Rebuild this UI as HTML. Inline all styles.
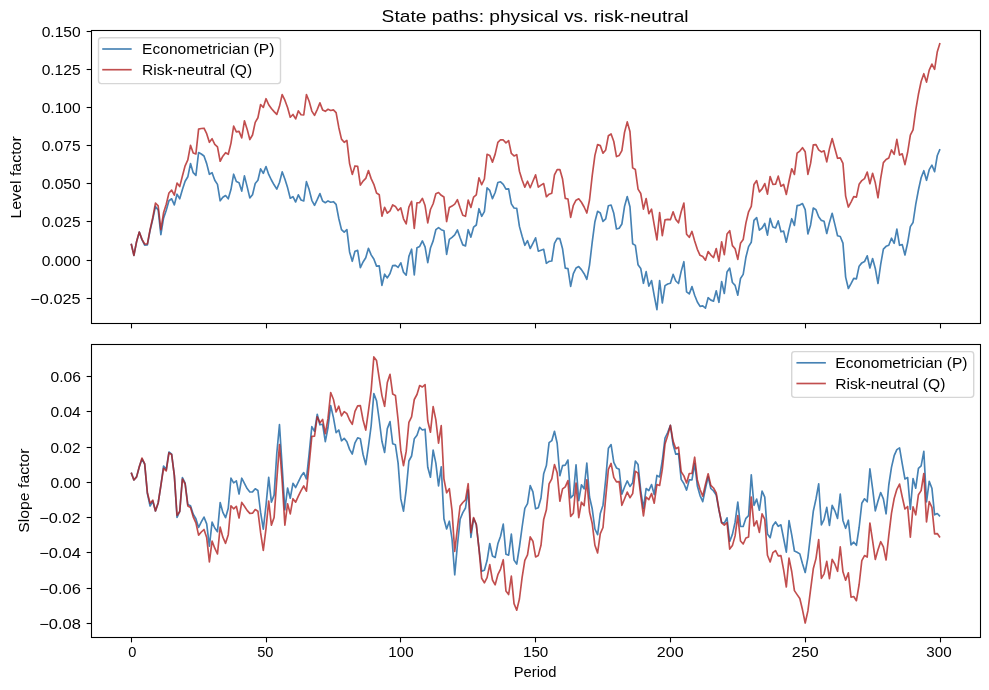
<!DOCTYPE html>
<html><head><meta charset="utf-8"><title>State paths: physical vs. risk-neutral</title>
<style>html,body{margin:0;padding:0;background:#fff;}body{width:989px;height:690px;overflow:hidden;font-family:"Liberation Sans",sans-serif;}svg{display:block;}text{font-family:"Liberation Sans",sans-serif;fill:#000;}</style>
</head><body>
<svg width="989" height="690" viewBox="0 0 989 690">
<rect x="0" y="0" width="989" height="690" fill="#ffffff"/>
<defs>
<clipPath id="c0"><rect x="91.5" y="30.5" width="889.0" height="293.0"/></clipPath>
<clipPath id="c1"><rect x="91.5" y="344.5" width="889.0" height="293.0"/></clipPath>
</defs>
<g clip-path="url(#c0)" fill="none" stroke-width="1.67" stroke-linejoin="round" stroke-linecap="butt">
<path d="M131.20,243.70 L133.90,255.40 L136.59,241.70 L139.29,232.10 L141.98,239.60 L144.68,245.10 L147.38,244.90 L150.07,230.50 L152.77,219.30 L155.46,206.40 L158.16,210.00 L160.86,234.70 L163.55,218.20 L166.25,210.20 L168.94,200.70 L171.64,198.80 L174.34,204.90 L177.03,194.20 L179.73,198.80 L182.42,189.60 L185.12,181.30 L187.82,176.80 L190.51,163.60 L193.21,172.70 L195.90,175.30 L198.60,152.50 L201.30,154.00 L203.99,156.00 L206.69,163.60 L209.38,174.30 L212.08,172.70 L214.78,180.30 L217.47,184.40 L220.17,200.80 L222.86,197.20 L225.56,195.50 L228.26,198.80 L230.95,189.60 L233.65,174.20 L236.34,181.50 L239.04,182.70 L241.74,191.10 L244.43,175.90 L247.13,186.60 L249.82,197.90 L252.52,194.70 L255.22,183.50 L257.91,180.30 L260.61,168.80 L263.30,173.40 L266.00,166.50 L268.70,174.40 L271.39,180.00 L274.09,184.80 L276.78,189.10 L279.48,182.50 L282.18,171.90 L284.87,179.00 L287.57,187.60 L290.26,198.20 L292.96,196.70 L295.66,202.00 L298.35,194.90 L301.05,200.00 L303.74,201.00 L306.44,181.70 L309.14,189.60 L311.83,200.30 L314.53,205.30 L317.22,199.70 L319.92,193.60 L322.62,201.00 L325.31,202.70 L328.01,200.90 L330.70,202.20 L333.40,201.70 L336.10,204.30 L338.79,218.50 L341.49,229.60 L344.18,232.20 L346.88,229.60 L349.58,251.90 L352.27,261.30 L354.97,251.20 L357.66,250.40 L360.36,267.60 L363.06,262.00 L365.75,257.70 L368.45,248.30 L371.14,254.90 L373.84,259.00 L376.54,266.10 L379.23,265.90 L381.93,285.30 L384.62,274.20 L387.32,277.90 L390.02,273.50 L392.71,265.60 L395.41,265.30 L398.10,267.40 L400.80,262.80 L403.50,272.20 L406.19,275.20 L408.89,256.40 L411.58,249.20 L414.28,274.80 L416.98,247.70 L419.67,246.40 L422.37,240.90 L425.06,246.90 L427.76,262.70 L430.46,248.00 L433.15,240.90 L435.85,229.70 L438.54,227.70 L441.24,229.70 L443.94,230.70 L446.63,254.40 L449.33,239.30 L452.02,237.30 L454.72,234.80 L457.42,230.00 L460.11,237.80 L462.81,244.90 L465.50,245.90 L468.20,229.70 L470.90,237.10 L473.59,227.20 L476.29,225.00 L478.98,208.70 L481.68,216.30 L484.38,211.70 L487.07,187.90 L489.77,190.40 L492.46,198.70 L495.16,192.50 L497.86,182.50 L500.55,181.80 L503.25,184.30 L505.94,189.20 L508.64,188.80 L511.34,203.90 L514.03,208.00 L516.73,208.30 L519.42,226.40 L522.12,236.30 L524.82,245.30 L527.51,240.70 L530.21,248.50 L532.90,243.30 L535.60,237.80 L538.30,251.20 L540.99,250.20 L543.69,249.30 L546.38,263.30 L549.08,261.30 L551.78,261.00 L554.47,243.30 L557.17,238.40 L559.86,238.70 L562.56,248.80 L565.26,268.10 L567.95,268.60 L570.65,286.40 L573.34,273.70 L576.04,268.10 L578.74,266.60 L581.43,269.60 L584.13,273.70 L586.82,279.30 L589.52,265.10 L592.22,242.20 L594.91,221.70 L597.61,211.30 L600.30,213.00 L603.00,221.40 L605.70,218.90 L608.39,205.70 L611.09,205.00 L613.78,213.30 L616.48,229.00 L619.18,228.30 L621.87,224.00 L624.57,206.20 L627.26,196.60 L629.96,206.70 L632.66,243.80 L635.35,245.40 L638.05,264.80 L640.74,268.50 L643.44,283.30 L646.14,271.60 L648.83,286.10 L651.53,280.50 L654.22,295.70 L656.92,309.70 L659.62,280.70 L662.31,303.00 L665.01,285.60 L667.70,284.00 L670.40,283.30 L673.10,274.40 L675.79,281.00 L678.49,283.50 L681.18,271.40 L683.88,261.70 L686.58,291.90 L689.27,293.90 L691.97,286.60 L694.66,295.20 L697.36,302.00 L700.06,306.40 L702.75,305.90 L705.45,308.10 L708.14,297.70 L710.84,300.10 L713.54,301.10 L716.23,290.80 L718.93,302.30 L721.62,281.50 L724.32,293.50 L727.02,271.90 L729.71,268.10 L732.41,282.50 L735.10,285.40 L737.80,295.20 L740.50,278.50 L743.19,274.40 L745.89,257.30 L748.58,246.60 L751.28,242.20 L753.98,220.40 L756.67,217.60 L759.37,230.10 L762.06,228.00 L764.76,223.50 L767.46,235.10 L770.15,218.40 L772.85,227.00 L775.54,228.00 L778.24,220.90 L780.94,231.80 L783.63,231.10 L786.33,242.20 L789.02,229.60 L791.72,218.70 L794.42,225.40 L797.11,205.60 L799.81,205.10 L802.50,203.60 L805.20,209.70 L807.90,234.00 L810.59,224.90 L813.29,208.00 L815.98,209.70 L818.68,216.80 L821.38,220.40 L824.07,221.20 L826.77,233.50 L829.46,222.40 L832.16,213.30 L834.86,224.40 L837.55,235.80 L840.25,236.50 L842.94,243.10 L845.64,277.10 L848.34,288.50 L851.03,283.70 L853.73,278.40 L856.42,278.80 L859.12,266.20 L861.82,262.90 L864.51,261.60 L867.21,255.80 L869.90,268.00 L872.60,258.50 L875.30,268.50 L877.99,283.50 L880.69,264.40 L883.38,249.10 L886.08,246.30 L888.78,245.20 L891.47,238.20 L894.17,243.30 L896.86,229.10 L899.56,245.30 L902.26,244.60 L904.95,255.00 L907.65,242.80 L910.34,226.60 L913.04,222.50 L915.74,204.30 L918.43,190.00 L921.13,177.80 L923.82,170.70 L926.52,180.30 L929.22,169.70 L931.91,165.10 L934.61,171.70 L937.30,155.50 L940.00,149.20" stroke="#4682b4"/>
<path d="M131.20,243.70 L133.90,255.40 L136.59,241.50 L139.29,232.00 L141.98,239.40 L144.68,244.00 L147.38,243.92 L150.07,229.58 L152.77,217.47 L155.46,203.14 L158.16,205.84 L160.86,229.73 L163.55,212.77 L166.25,204.21 L168.94,193.01 L171.64,190.16 L174.34,195.17 L177.03,183.08 L179.73,186.60 L182.42,176.05 L185.12,165.80 L187.82,159.82 L190.51,145.33 L193.21,152.92 L195.90,153.92 L198.60,129.11 L201.30,128.54 L203.99,128.21 L206.69,133.70 L209.38,142.32 L212.08,138.75 L214.78,144.37 L217.47,146.80 L220.17,161.24 L222.86,156.14 L225.56,152.69 L228.26,154.32 L230.95,143.35 L233.65,126.18 L236.34,131.93 L239.04,131.36 L241.74,137.81 L244.43,120.85 L247.13,129.15 L249.82,139.53 L252.52,135.03 L255.22,122.41 L257.91,117.75 L260.61,104.53 L263.30,107.45 L266.00,98.69 L268.70,104.78 L271.39,108.53 L274.09,111.64 L276.78,114.41 L279.48,106.32 L282.18,94.52 L284.87,100.22 L287.57,107.57 L290.26,117.24 L292.96,114.47 L295.66,118.93 L298.35,110.87 L301.05,114.76 L303.74,115.00 L306.44,94.61 L309.14,101.28 L311.83,111.08 L314.53,115.39 L317.22,109.57 L319.92,102.88 L322.62,109.89 L325.31,111.33 L328.01,109.25 L330.70,110.50 L333.40,109.88 L336.10,112.65 L338.79,127.45 L341.49,139.09 L344.18,142.31 L346.88,140.46 L349.58,163.62 L352.27,174.41 L354.97,165.95 L357.66,166.43 L360.36,185.12 L363.06,181.11 L365.75,178.47 L368.45,170.52 L371.14,178.63 L373.84,184.35 L376.54,193.04 L379.23,194.69 L381.93,216.21 L384.62,207.28 L387.32,213.14 L390.02,210.82 L392.71,204.86 L395.41,206.40 L398.10,210.52 L400.80,207.94 L403.50,218.81 L406.19,223.98 L408.89,207.09 L411.58,201.31 L414.28,228.41 L416.98,202.71 L419.67,202.57 L422.37,198.33 L425.06,205.54 L427.76,222.86 L430.46,209.50 L433.15,203.74 L435.85,193.66 L438.54,192.48 L441.24,195.32 L443.94,197.07 L446.63,221.54 L449.33,207.53 L452.02,206.06 L454.72,204.10 L457.42,199.67 L460.11,207.74 L462.81,215.24 L465.50,216.28 L468.20,200.12 L470.90,207.46 L473.59,197.15 L476.29,194.83 L478.98,177.75 L481.68,184.74 L484.38,179.00 L487.07,154.34 L489.77,155.44 L492.46,162.14 L495.16,154.13 L497.86,142.38 L500.55,139.72 L503.25,139.94 L505.94,142.91 L508.64,140.57 L511.34,153.48 L514.03,155.96 L516.73,154.63 L519.42,171.16 L522.12,180.01 L524.82,187.12 L527.51,181.24 L530.21,187.74 L532.90,181.23 L535.60,174.87 L538.30,187.11 L540.99,185.12 L543.69,183.58 L546.38,196.77 L549.08,194.21 L551.78,193.24 L554.47,174.83 L557.17,169.67 L559.86,169.47 L562.56,179.02 L565.26,198.35 L567.95,198.95 L570.65,217.39 L573.34,205.28 L576.04,200.20 L578.74,198.80 L581.43,202.24 L584.13,206.99 L586.82,213.03 L589.52,200.02 L592.22,175.65 L594.91,155.42 L597.61,144.48 L600.30,145.61 L603.00,153.24 L605.70,149.92 L608.39,135.72 L611.09,133.93 L613.78,141.50 L616.48,156.60 L619.18,155.46 L621.87,150.54 L624.57,132.17 L627.26,121.90 L629.96,131.54 L632.66,167.91 L635.35,169.58 L638.05,189.17 L640.74,193.49 L643.44,209.17 L646.14,198.49 L648.83,213.72 L651.53,209.13 L654.22,224.77 L656.92,239.87 L659.62,212.52 L662.31,235.71 L665.01,219.85 L667.70,219.38 L670.40,219.67 L673.10,211.81 L675.79,219.39 L678.49,222.78 L681.18,211.74 L683.88,203.12 L686.58,234.19 L689.27,237.28 L691.97,231.39 L694.66,241.01 L697.36,249.29 L700.06,255.33 L702.75,256.50 L705.45,260.23 L708.14,251.49 L710.84,255.08 L713.54,257.52 L716.23,248.51 L718.93,261.23 L721.62,241.79 L724.32,254.60 L727.02,233.99 L729.71,230.75 L732.41,245.60 L735.10,248.83 L737.80,259.33 L740.50,243.28 L743.19,239.54 L745.89,223.07 L748.58,211.81 L751.28,206.44 L753.98,184.45 L756.67,180.60 L759.37,191.83 L762.06,188.90 L764.76,183.56 L767.46,194.11 L770.15,176.49 L772.85,184.30 L775.54,184.23 L778.24,176.14 L780.94,186.18 L783.63,184.45 L786.33,194.42 L789.02,180.98 L791.72,168.73 L794.42,174.42 L797.11,153.11 L799.81,151.08 L802.50,147.70 L805.20,151.83 L807.90,174.42 L810.59,163.42 L813.29,144.94 L815.98,144.61 L818.68,149.87 L821.38,151.91 L824.07,150.75 L826.77,161.90 L829.46,148.61 L832.16,138.48 L834.86,148.49 L837.55,158.30 L840.25,157.83 L842.94,163.30 L845.64,196.08 L848.34,207.05 L851.03,202.02 L853.73,196.68 L856.42,197.09 L859.12,184.36 L861.82,180.59 L864.51,178.64 L867.21,172.03 L869.90,183.70 L872.60,173.24 L875.30,182.85 L877.99,197.76 L880.69,178.44 L883.38,162.59 L886.08,159.51 L888.78,157.97 L891.47,149.97 L894.17,154.30 L896.86,139.31 L899.56,155.04 L902.26,153.86 L904.95,164.65 L907.65,152.26 L910.34,135.10 L913.04,129.94 L915.74,110.11 L918.43,94.27 L921.13,81.50 L923.82,73.67 L926.52,82.08 L929.22,70.15 L931.91,64.11 L934.61,69.30 L937.30,51.70 L940.00,43.10" stroke="#b22222" stroke-opacity="0.8"/>
</g>
<g clip-path="url(#c1)" fill="none" stroke-width="1.67" stroke-linejoin="round" stroke-linecap="butt">
<path d="M131.20,472.60 L133.90,480.00 L136.59,476.90 L139.29,466.80 L141.98,459.00 L144.68,464.00 L147.38,493.50 L150.07,506.00 L152.77,501.00 L155.46,511.00 L158.16,503.00 L160.86,485.60 L163.55,466.00 L166.25,469.50 L168.94,452.00 L171.64,454.10 L174.34,475.40 L177.03,517.50 L179.73,511.50 L182.42,477.50 L185.12,483.00 L187.82,504.60 L190.51,505.70 L193.21,514.30 L195.90,518.80 L198.60,527.50 L201.30,521.90 L203.99,517.10 L206.69,523.90 L209.38,546.20 L212.08,522.20 L214.78,528.00 L217.47,531.70 L220.17,502.50 L222.86,512.40 L225.56,517.70 L228.26,508.30 L230.95,478.20 L233.65,482.80 L236.34,480.80 L239.04,494.00 L241.74,478.20 L244.43,483.30 L247.13,488.60 L249.82,492.00 L252.52,491.90 L255.22,488.80 L257.91,490.50 L260.61,512.40 L263.30,529.10 L266.00,505.30 L268.70,477.40 L271.39,502.20 L274.09,495.10 L276.78,453.50 L279.48,424.70 L282.18,467.00 L284.87,509.80 L287.57,488.00 L290.26,498.20 L292.96,483.30 L295.66,487.50 L298.35,481.90 L301.05,476.30 L303.74,472.60 L306.44,478.80 L309.14,453.50 L311.83,426.60 L314.53,431.30 L317.22,414.30 L319.92,424.80 L322.62,424.30 L325.31,441.70 L328.01,427.50 L330.70,405.70 L333.40,417.40 L336.10,432.60 L338.79,430.00 L341.49,440.80 L344.18,438.30 L346.88,441.80 L349.58,449.40 L352.27,454.00 L354.97,442.80 L357.66,437.80 L360.36,438.80 L363.06,454.50 L365.75,464.60 L368.45,446.40 L371.14,426.00 L373.84,393.60 L376.54,400.70 L379.23,420.00 L381.93,441.30 L384.62,452.50 L387.32,428.60 L390.02,421.60 L392.71,443.80 L395.41,444.80 L398.10,463.10 L400.80,498.90 L403.50,511.10 L406.19,489.80 L408.89,461.00 L411.58,456.00 L414.28,438.80 L416.98,435.20 L419.67,427.30 L422.37,430.00 L425.06,429.20 L427.76,467.20 L430.46,477.20 L433.15,450.20 L435.85,463.10 L438.54,485.80 L441.24,466.90 L443.94,518.70 L446.63,529.00 L449.33,521.20 L452.02,539.00 L454.72,574.80 L457.42,545.00 L460.11,519.30 L462.81,512.60 L465.50,508.00 L468.20,489.80 L470.90,537.50 L473.59,518.50 L476.29,524.50 L478.98,548.40 L481.68,571.20 L484.38,570.20 L487.07,560.60 L489.77,543.50 L492.46,556.00 L495.16,557.50 L497.86,543.80 L500.55,536.20 L503.25,524.10 L505.94,554.20 L508.64,555.10 L511.34,534.20 L514.03,560.10 L516.73,564.10 L519.42,547.00 L522.12,527.00 L524.82,508.30 L527.51,503.70 L530.21,485.60 L532.90,491.90 L535.60,508.80 L538.30,507.70 L540.99,498.00 L543.69,473.70 L546.38,465.60 L549.08,442.70 L551.78,440.70 L554.47,431.30 L557.17,443.30 L559.86,475.70 L562.56,465.60 L565.26,465.10 L567.95,460.00 L570.65,497.90 L573.34,495.10 L576.04,464.80 L578.74,500.60 L581.43,484.80 L584.13,488.90 L586.82,463.00 L589.52,497.00 L592.22,508.80 L594.91,529.00 L597.61,534.60 L600.30,513.40 L603.00,505.20 L605.70,479.40 L608.39,448.20 L611.09,444.60 L613.78,462.30 L616.48,467.90 L619.18,469.30 L621.87,494.10 L624.57,487.00 L627.26,480.90 L629.96,486.50 L632.66,482.70 L635.35,461.00 L638.05,464.50 L640.74,490.60 L643.44,508.30 L646.14,488.50 L648.83,490.60 L651.53,484.50 L654.22,494.60 L656.92,475.40 L659.62,476.90 L662.31,460.50 L665.01,438.00 L667.70,432.50 L670.40,425.40 L673.10,444.60 L675.79,454.20 L678.49,453.50 L681.18,479.40 L683.88,483.50 L686.58,490.10 L689.27,479.90 L691.97,479.90 L694.66,463.50 L697.36,486.00 L700.06,495.60 L702.75,501.70 L705.45,488.50 L708.14,476.80 L710.84,488.50 L713.54,491.00 L716.23,495.10 L718.93,510.00 L721.62,522.50 L724.32,523.10 L727.02,517.80 L729.71,541.50 L732.41,534.40 L735.10,522.20 L737.80,502.00 L740.50,526.30 L743.19,526.50 L745.89,518.30 L748.58,515.70 L751.28,474.80 L753.98,505.30 L756.67,499.10 L759.37,510.20 L762.06,491.00 L764.76,497.10 L767.46,533.90 L770.15,537.70 L772.85,525.80 L775.54,522.00 L778.24,526.30 L780.94,524.80 L783.63,538.50 L786.33,552.20 L789.02,520.70 L791.72,534.90 L794.42,551.00 L797.11,552.20 L799.81,553.90 L802.50,563.70 L805.20,572.50 L807.90,557.60 L810.59,534.60 L813.29,511.30 L815.98,499.00 L818.68,483.80 L821.38,525.00 L824.07,519.40 L826.77,507.40 L829.46,525.30 L832.16,505.40 L834.86,510.80 L837.55,518.40 L840.25,494.00 L842.94,520.40 L845.64,528.30 L848.34,520.20 L851.03,544.80 L853.73,542.20 L856.42,545.30 L859.12,527.50 L861.82,503.30 L864.51,498.80 L867.21,501.80 L869.90,468.90 L872.60,488.70 L875.30,510.80 L877.99,501.00 L880.69,492.50 L883.38,498.90 L886.08,513.80 L888.78,485.00 L891.47,467.40 L894.17,455.70 L896.86,449.60 L899.56,447.90 L902.26,463.80 L904.95,479.00 L907.65,477.50 L910.34,509.30 L913.04,478.50 L915.74,488.20 L918.43,468.40 L921.13,465.90 L923.82,451.40 L926.52,501.80 L929.22,481.40 L931.91,488.20 L934.61,514.80 L937.30,513.50 L940.00,516.40" stroke="#4682b4"/>
<path d="M131.20,472.60 L133.90,480.00 L136.59,476.90 L139.29,466.80 L141.98,458.00 L144.68,463.80 L147.38,492.70 L150.07,503.20 L152.77,500.20 L155.46,511.00 L158.16,503.00 L160.86,485.60 L163.55,468.30 L166.25,470.90 L168.94,452.90 L171.64,454.50 L174.34,475.60 L177.03,515.30 L179.73,511.50 L182.42,479.00 L185.12,484.00 L187.82,506.00 L190.51,507.50 L193.21,516.80 L195.90,522.90 L198.60,535.10 L201.30,532.00 L203.99,529.50 L206.69,537.60 L209.38,561.90 L212.08,541.10 L214.78,548.20 L217.47,554.00 L220.17,527.20 L222.86,537.20 L225.56,543.30 L228.26,534.70 L230.95,505.80 L233.65,508.80 L236.34,506.30 L239.04,518.00 L241.74,502.40 L244.43,506.30 L247.13,510.40 L249.82,513.40 L252.52,513.20 L255.22,509.50 L257.91,511.20 L260.61,532.70 L263.30,550.40 L266.00,528.60 L268.70,501.00 L271.39,525.10 L274.09,517.50 L276.78,480.00 L279.48,444.60 L282.18,481.50 L284.87,525.10 L287.57,503.80 L290.26,513.90 L292.96,498.70 L295.66,502.20 L298.35,496.20 L301.05,490.60 L303.74,486.00 L306.44,491.20 L309.14,464.50 L311.83,436.30 L314.53,436.20 L317.22,416.90 L319.92,422.80 L322.62,419.40 L325.31,433.60 L328.01,418.40 L330.70,392.50 L333.40,399.20 L336.10,412.00 L338.79,406.20 L341.49,415.90 L344.18,411.60 L346.88,413.70 L349.58,420.00 L352.27,424.30 L354.97,411.40 L357.66,405.80 L360.36,405.60 L363.06,420.00 L365.75,430.10 L368.45,410.90 L371.14,390.60 L373.84,356.90 L376.54,360.60 L379.23,378.40 L381.93,395.60 L384.62,406.30 L387.32,382.50 L390.02,374.30 L392.71,394.10 L395.41,395.40 L398.10,420.00 L400.80,450.40 L403.50,465.60 L406.19,451.40 L408.89,422.40 L411.58,416.80 L414.28,399.50 L416.98,394.50 L419.67,385.60 L422.37,387.00 L425.06,384.60 L427.76,421.00 L430.46,432.20 L433.15,406.60 L435.85,419.80 L438.54,443.10 L441.24,425.70 L443.94,479.00 L446.63,492.80 L449.33,488.70 L452.02,510.60 L454.72,551.40 L457.42,528.00 L460.11,506.00 L462.81,502.50 L465.50,499.90 L468.20,483.70 L470.90,532.70 L473.59,517.50 L476.29,524.50 L478.98,548.80 L481.68,578.30 L484.38,582.80 L487.07,577.70 L489.77,564.60 L492.46,580.00 L495.16,584.80 L497.86,574.70 L500.55,569.10 L503.25,559.70 L505.94,590.90 L508.64,594.50 L511.34,576.20 L514.03,603.60 L516.73,610.20 L519.42,599.00 L522.12,577.30 L524.82,560.30 L527.51,554.90 L530.21,536.90 L532.90,541.20 L535.60,556.90 L538.30,555.40 L540.99,545.30 L543.69,519.40 L546.38,509.80 L549.08,483.80 L551.78,478.80 L554.47,464.60 L557.17,472.70 L559.86,501.20 L562.56,488.90 L565.26,486.90 L567.95,480.60 L570.65,516.40 L573.34,513.30 L576.04,483.00 L578.74,517.60 L581.43,502.20 L584.13,505.70 L586.82,479.80 L589.52,511.80 L592.22,523.50 L594.91,545.30 L597.61,552.90 L600.30,533.60 L603.00,527.50 L605.70,497.70 L608.39,469.30 L611.09,463.40 L613.78,477.40 L616.48,481.90 L619.18,481.60 L621.87,505.30 L624.57,498.70 L627.26,492.10 L629.96,497.70 L632.66,493.60 L635.35,471.30 L638.05,473.10 L640.74,495.60 L643.44,515.90 L646.14,497.20 L648.83,499.70 L651.53,493.60 L654.22,503.20 L656.92,484.50 L659.62,485.50 L662.31,469.40 L665.01,444.10 L667.70,435.50 L670.40,425.40 L673.10,441.10 L675.79,448.70 L678.49,447.20 L681.18,471.80 L683.88,475.90 L686.58,483.00 L689.27,473.50 L691.97,473.50 L694.66,457.20 L697.36,479.90 L700.06,489.50 L702.75,496.10 L705.45,484.40 L708.14,473.80 L710.84,485.40 L713.54,488.00 L716.23,493.00 L718.93,509.40 L721.62,522.80 L724.32,525.20 L727.02,522.50 L729.71,549.10 L732.41,545.60 L735.10,535.90 L737.80,515.70 L740.50,541.00 L743.19,544.00 L745.89,538.00 L748.58,536.90 L751.28,497.10 L753.98,526.00 L756.67,520.80 L759.37,532.40 L762.06,513.80 L764.76,519.30 L767.46,555.20 L770.15,562.00 L772.85,552.70 L775.54,550.60 L778.24,555.90 L780.94,555.70 L783.63,569.90 L786.33,587.00 L789.02,558.20 L791.72,571.50 L794.42,590.60 L797.11,594.60 L799.81,598.50 L802.50,609.80 L805.20,623.00 L807.90,610.90 L810.59,589.60 L813.29,568.80 L815.98,558.60 L818.68,539.50 L821.38,578.40 L824.07,573.80 L826.77,561.40 L829.46,578.60 L832.16,559.40 L834.86,564.20 L837.55,571.30 L840.25,546.80 L842.94,571.80 L845.64,580.20 L848.34,572.80 L851.03,597.20 L853.73,596.50 L856.42,600.70 L859.12,584.50 L861.82,560.60 L864.51,555.60 L867.21,557.10 L869.90,523.00 L872.60,540.70 L875.30,559.50 L877.99,549.80 L880.69,541.70 L883.38,546.80 L886.08,560.00 L888.78,535.60 L891.47,513.30 L894.17,498.50 L896.86,489.30 L899.56,484.10 L902.26,497.00 L904.95,509.00 L907.65,506.50 L910.34,537.20 L913.04,506.80 L915.74,514.80 L918.43,494.70 L921.13,490.60 L923.82,473.50 L926.52,521.90 L929.22,501.50 L931.91,507.30 L934.61,533.80 L937.30,533.60 L940.00,537.50" stroke="#b22222" stroke-opacity="0.8"/>
</g>
<rect x="91.5" y="30.5" width="889.0" height="293.0" fill="none" stroke="#000" stroke-width="1.1" stroke-linejoin="miter"/>
<rect x="91.5" y="344.5" width="889.0" height="293.0" fill="none" stroke="#000" stroke-width="1.1" stroke-linejoin="miter"/>
<g stroke="#000" stroke-width="1.1" fill="none">
<line x1="131.5" y1="323.5" x2="131.5" y2="328.36"/>
<line x1="266.5" y1="323.5" x2="266.5" y2="328.36"/>
<line x1="400.5" y1="323.5" x2="400.5" y2="328.36"/>
<line x1="535.5" y1="323.5" x2="535.5" y2="328.36"/>
<line x1="670.5" y1="323.5" x2="670.5" y2="328.36"/>
<line x1="805.5" y1="323.5" x2="805.5" y2="328.36"/>
<line x1="940.5" y1="323.5" x2="940.5" y2="328.36"/>
<line x1="131.5" y1="637.5" x2="131.5" y2="642.36"/>
<line x1="266.5" y1="637.5" x2="266.5" y2="642.36"/>
<line x1="400.5" y1="637.5" x2="400.5" y2="642.36"/>
<line x1="535.5" y1="637.5" x2="535.5" y2="642.36"/>
<line x1="670.5" y1="637.5" x2="670.5" y2="642.36"/>
<line x1="805.5" y1="637.5" x2="805.5" y2="642.36"/>
<line x1="940.5" y1="637.5" x2="940.5" y2="642.36"/>
<line x1="86.64" y1="298.5" x2="91.5" y2="298.5"/>
<line x1="86.64" y1="260.5" x2="91.5" y2="260.5"/>
<line x1="86.64" y1="221.5" x2="91.5" y2="221.5"/>
<line x1="86.64" y1="183.5" x2="91.5" y2="183.5"/>
<line x1="86.64" y1="145.5" x2="91.5" y2="145.5"/>
<line x1="86.64" y1="107.5" x2="91.5" y2="107.5"/>
<line x1="86.64" y1="69.5" x2="91.5" y2="69.5"/>
<line x1="86.64" y1="31.5" x2="91.5" y2="31.5"/>
<line x1="86.64" y1="623.5" x2="91.5" y2="623.5"/>
<line x1="86.64" y1="588.5" x2="91.5" y2="588.5"/>
<line x1="86.64" y1="552.5" x2="91.5" y2="552.5"/>
<line x1="86.64" y1="517.5" x2="91.5" y2="517.5"/>
<line x1="86.64" y1="482.5" x2="91.5" y2="482.5"/>
<line x1="86.64" y1="447.5" x2="91.5" y2="447.5"/>
<line x1="86.64" y1="411.5" x2="91.5" y2="411.5"/>
<line x1="86.64" y1="376.5" x2="91.5" y2="376.5"/>
</g>
<g opacity="0.999">
<text x="30.38" y="303.80" font-size="14.2" textLength="50.20" lengthAdjust="spacingAndGlyphs">−0.025</text>
<text x="41.65" y="265.80" font-size="14.2" textLength="39.14" lengthAdjust="spacingAndGlyphs">0.000</text>
<text x="41.66" y="226.80" font-size="14.2" textLength="38.89" lengthAdjust="spacingAndGlyphs">0.025</text>
<text x="41.65" y="188.80" font-size="14.2" textLength="39.14" lengthAdjust="spacingAndGlyphs">0.050</text>
<text x="41.66" y="150.80" font-size="14.2" textLength="38.89" lengthAdjust="spacingAndGlyphs">0.075</text>
<text x="41.65" y="112.80" font-size="14.2" textLength="39.14" lengthAdjust="spacingAndGlyphs">0.100</text>
<text x="41.66" y="74.80" font-size="14.2" textLength="38.89" lengthAdjust="spacingAndGlyphs">0.125</text>
<text x="41.65" y="36.80" font-size="14.2" textLength="39.14" lengthAdjust="spacingAndGlyphs">0.150</text>
<text x="39.20" y="628.80" font-size="14.2" textLength="41.67" lengthAdjust="spacingAndGlyphs">−0.08</text>
<text x="39.20" y="593.80" font-size="14.2" textLength="41.75" lengthAdjust="spacingAndGlyphs">−0.06</text>
<text x="39.20" y="557.80" font-size="14.2" textLength="41.60" lengthAdjust="spacingAndGlyphs">−0.04</text>
<text x="39.21" y="522.80" font-size="14.2" textLength="41.32" lengthAdjust="spacingAndGlyphs">−0.02</text>
<text x="50.49" y="487.80" font-size="14.2" textLength="30.30" lengthAdjust="spacingAndGlyphs">0.00</text>
<text x="50.50" y="452.80" font-size="14.2" textLength="29.99" lengthAdjust="spacingAndGlyphs">0.02</text>
<text x="50.49" y="416.80" font-size="14.2" textLength="30.29" lengthAdjust="spacingAndGlyphs">0.04</text>
<text x="50.49" y="381.80" font-size="14.2" textLength="30.42" lengthAdjust="spacingAndGlyphs">0.06</text>
<text x="128.38" y="657.10" font-size="14.2" textLength="8.14" lengthAdjust="spacingAndGlyphs">0</text>
<text x="257.21" y="657.10" font-size="14.2" textLength="16.26" lengthAdjust="spacingAndGlyphs">50</text>
<text x="388.35" y="657.10" font-size="14.2" textLength="25.24" lengthAdjust="spacingAndGlyphs">100</text>
<text x="522.94" y="657.10" font-size="14.2" textLength="25.35" lengthAdjust="spacingAndGlyphs">150</text>
<text x="656.89" y="657.10" font-size="14.2" textLength="26.73" lengthAdjust="spacingAndGlyphs">200</text>
<text x="791.89" y="657.10" font-size="14.2" textLength="26.73" lengthAdjust="spacingAndGlyphs">250</text>
<text x="926.32" y="657.10" font-size="14.2" textLength="25.37" lengthAdjust="spacingAndGlyphs">300</text>
<text x="513.79" y="677.00" font-size="14.2" textLength="42.56" lengthAdjust="spacingAndGlyphs">Period</text>
<text x="381.63" y="21.90" font-size="17.0" textLength="306.95" lengthAdjust="spacingAndGlyphs">State paths: physical vs. risk-neutral</text>
<text x="20.60" y="218.60" font-size="14.2" textLength="82.40" lengthAdjust="spacingAndGlyphs" transform="rotate(-90 20.60 218.60)">Level factor</text>
<text x="29.30" y="532.75" font-size="14.2" textLength="84.30" lengthAdjust="spacingAndGlyphs" transform="rotate(-90 29.30 532.75)">Slope factor</text>
<rect x="98.5" y="37.8" width="182.0" height="45.8" rx="2.8" ry="2.8" fill="#ffffff" fill-opacity="0.8" stroke="#cccccc" stroke-opacity="0.8" stroke-width="1.39"/>
<line x1="102.23" y1="49.00" x2="131.67" y2="49.00" stroke="#4682b4" stroke-width="1.67"/>
<line x1="102.23" y1="69.70" x2="131.67" y2="69.70" stroke="#b22222" stroke-opacity="0.8" stroke-width="1.67"/>
<text x="142.12" y="53.80" font-size="14.2" textLength="132.24" lengthAdjust="spacingAndGlyphs">Econometrician (P)</text>
<text x="142.12" y="74.70" font-size="14.2" textLength="110.05" lengthAdjust="spacingAndGlyphs">Risk-neutral (Q)</text>
<rect x="791.7" y="351.6" width="182.0" height="45.8" rx="2.8" ry="2.8" fill="#ffffff" fill-opacity="0.8" stroke="#cccccc" stroke-opacity="0.8" stroke-width="1.39"/>
<line x1="796.43" y1="362.80" x2="825.87" y2="362.80" stroke="#4682b4" stroke-width="1.67"/>
<line x1="796.43" y1="383.50" x2="825.87" y2="383.50" stroke="#b22222" stroke-opacity="0.8" stroke-width="1.67"/>
<text x="835.32" y="367.60" font-size="14.2" textLength="132.24" lengthAdjust="spacingAndGlyphs">Econometrician (P)</text>
<text x="835.32" y="388.50" font-size="14.2" textLength="110.05" lengthAdjust="spacingAndGlyphs">Risk-neutral (Q)</text>
</g>
</svg>
</body></html>
